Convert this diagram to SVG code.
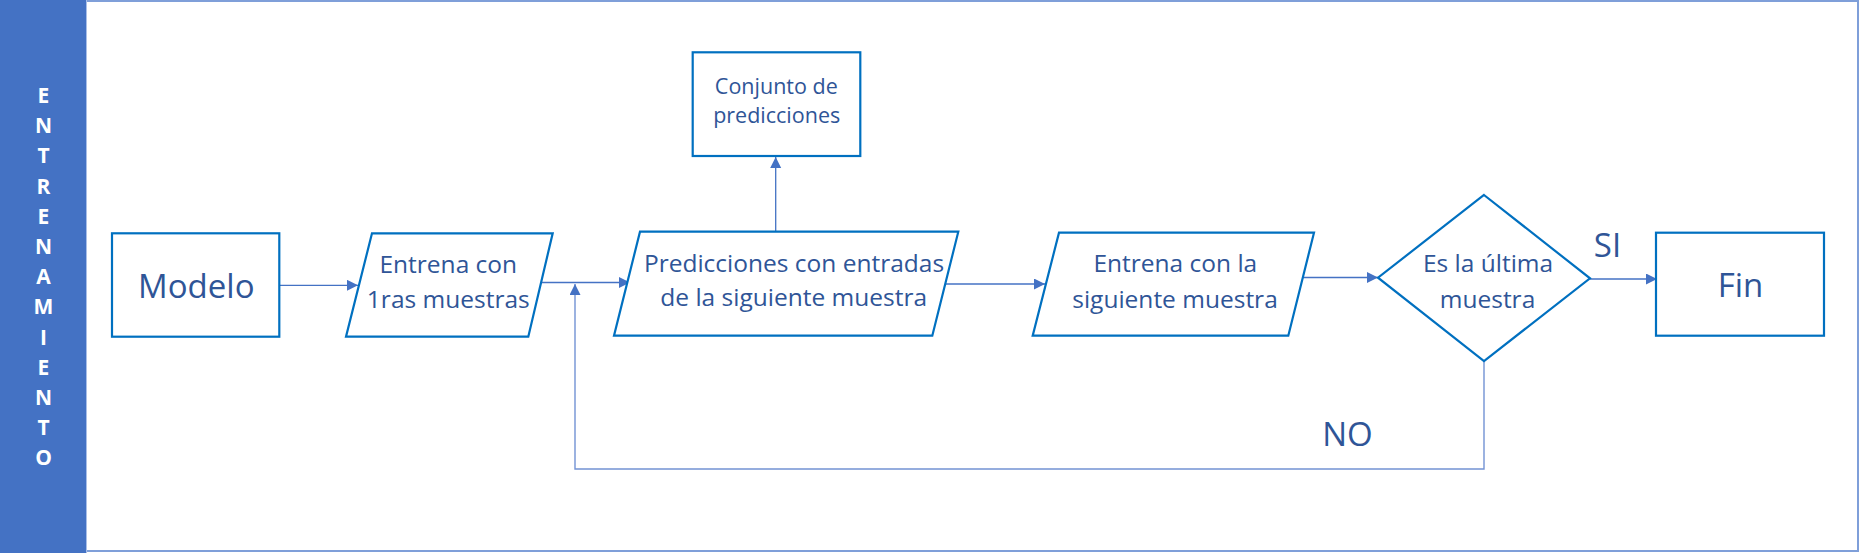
<svg xmlns="http://www.w3.org/2000/svg" width="1861" height="553" viewBox="0 0 1861 553">
<defs>
<style>
.shape{fill:#ffffff;stroke:#0070C0;stroke-width:2.2}
.t{font-family:"Open Sans","Noto Sans",sans-serif;fill:#2F5597;text-anchor:middle}
.m{font-size:24.5px}
.big{font-size:33px}
.sm{font-size:21.5px}
.band{font-family:"Open Sans","Noto Sans",sans-serif;font-weight:bold;font-size:21px;fill:#ffffff;text-anchor:middle}
.c{fill:none;stroke:#4472C4;stroke-width:1.3}
.loop{fill:none;stroke:#7393D4;stroke-width:1.4}
</style>
<marker id="ah" markerUnits="userSpaceOnUse" markerWidth="12" markerHeight="12" refX="11" refY="5.5" orient="auto">
<path d="M0,0 L11,5.5 L0,11 z" fill="#4472C4"/>
</marker>
</defs>
<rect x="0" y="0" width="1861" height="553" fill="#ffffff"/>
<rect x="1" y="1" width="1857" height="550" fill="#ffffff" stroke="#7F9FD9" stroke-width="2"/>
<g id="lane">
<rect x="0" y="0" width="86" height="553" fill="#4472C4"/>
<line x1="86.5" y1="0" x2="86.5" y2="553" stroke="#A9BFE8" stroke-width="1"/>
<text class="band" x="43.5" y="103">E</text>
<text class="band" x="43.5" y="133">N</text>
<text class="band" x="43.5" y="163">T</text>
<text class="band" x="43.5" y="193.5">R</text>
<text class="band" x="43.5" y="223.5">E</text>
<text class="band" x="43.5" y="254">N</text>
<text class="band" x="43.5" y="284">A</text>
<text class="band" x="43.5" y="314">M</text>
<text class="band" x="43.5" y="344.5">I</text>
<text class="band" x="43.5" y="374.5">E</text>
<text class="band" x="43.5" y="404.5">N</text>
<text class="band" x="43.5" y="435">T</text>
<text class="band" x="43.5" y="465">O</text>
</g>
<g id="connectors">
<line class="c" x1="280" y1="285.3" x2="358" y2="285.3" marker-end="url(#ah)"/>
<line class="c" x1="540" y1="282.5" x2="630" y2="282.5" marker-end="url(#ah)"/>
<line class="c" x1="775.7" y1="231.7" x2="775.7" y2="157" marker-end="url(#ah)"/>
<line class="c" x1="945" y1="284" x2="1045" y2="284" marker-end="url(#ah)"/>
<line class="c" x1="1302" y1="277.5" x2="1378" y2="277.5" marker-end="url(#ah)"/>
<line class="c" x1="1590" y1="279" x2="1657" y2="279" marker-end="url(#ah)"/>
<polyline class="loop" points="1484,361 1484,469 575,469 575,284" marker-end="url(#ah)"/>
<text class="t big" x="1607.5" y="256.5">SI</text>
<text class="t big" x="1347.5" y="446">NO</text>
</g>
<g id="modelo">
<rect class="shape" x="112" y="233.3" width="167.3" height="103.4"/>
<text class="t big" x="196.3" y="297.7">Modelo</text>
</g>
<g id="entrena1">
<polygon class="shape" points="372,233.3 552.7,233.3 528.3,336.7 346,336.7"/>
<text class="t m" x="448.3" y="272.7">Entrena con</text>
<text class="t m" x="448.3" y="308.3">1ras muestras</text>
</g>
<g id="predicciones">
<polygon class="shape" points="640,231.7 958.3,231.7 932.3,335.7 614,335.7"/>
<text class="t m" x="794" y="271.7">Predicciones con entradas</text>
<text class="t m" x="793.7" y="306">de la siguiente muestra</text>
</g>
<g id="conjunto">
<rect class="shape" x="692.7" y="52.3" width="167.6" height="103.7"/>
<text class="t sm" x="776.3" y="94.3">Conjunto de</text>
<text class="t sm" x="776.7" y="122.7">predicciones</text>
</g>
<g id="entrena2">
<polygon class="shape" points="1059,232.7 1314,232.7 1288.3,335.7 1032.7,335.7"/>
<text class="t m" x="1175.3" y="272.3">Entrena con la</text>
<text class="t m" x="1175" y="307.7">siguiente muestra</text>
</g>
<g id="decision">
<polygon class="shape" points="1484,195 1590,278.3 1484,361 1378,277.7"/>
<text class="t m" x="1488" y="271.7">Es la última</text>
<text class="t m" x="1487.5" y="307.7">muestra</text>
</g>
<g id="fin">
<rect class="shape" x="1656" y="232.7" width="168" height="103"/>
<text class="t big" x="1740.5" y="297.3">Fin</text>
</g>
</svg>
